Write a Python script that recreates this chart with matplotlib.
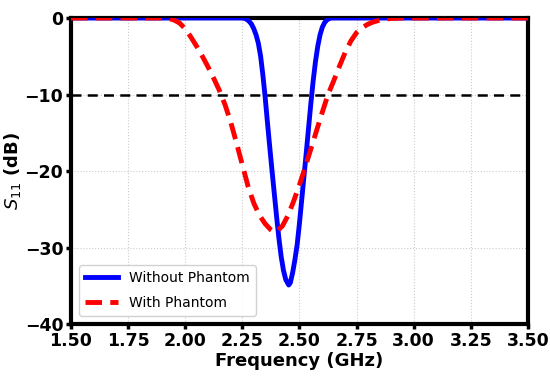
import matplotlib
matplotlib.use("Agg")
import matplotlib.pyplot as plt

# Without Phantom
freq_without = [1.50, 2.00, 2.25, 2.26, 2.27, 2.28, 2.29, 2.30, 2.31, 2.32, 2.33, 2.34,
                2.35, 2.36, 2.37, 2.38, 2.39, 2.40, 2.41, 2.42, 2.43, 2.44, 2.453, 2.46,
                2.47, 2.48, 2.49, 2.50, 2.51, 2.52, 2.53, 2.54, 2.55, 2.56, 2.57, 2.58,
                2.59, 2.60, 2.61, 2.62, 2.63, 2.64, 3.00, 3.50]
s11_without = [0.0, 0.0, 0.0, -0.05, -0.2, -0.45, -0.8, -1.4, -2.2, -3.3, -5.0, -7.5,
               -10.4, -13.7, -16.9, -20.0, -23.0, -26.0, -28.8, -31.2, -33.0, -34.2, -34.9, -34.6,
               -33.3, -31.6, -29.6, -26.8, -23.7, -20.6, -17.5, -14.3, -11.1, -8.2, -5.7, -3.7,
               -2.2, -1.2, -0.6, -0.25, -0.08, 0.0, 0.0, 0.0]

# With Phantom
freq_with = [1.50, 1.90, 1.925, 1.95, 1.975, 2.00, 2.025, 2.05, 2.075, 2.10, 2.125, 2.15,
             2.175, 2.20, 2.225, 2.25, 2.275, 2.30, 2.325, 2.35, 2.375, 2.39, 2.40, 2.425,
             2.45, 2.475, 2.50, 2.525, 2.55, 2.575, 2.60, 2.625, 2.65, 2.675, 2.70, 2.725,
             2.75, 2.775, 2.80, 2.825, 2.85, 2.875, 2.90, 2.95, 3.20, 3.50]
s11_with = [0.0, 0.0, -0.05, -0.25, -0.65, -1.4, -2.5, -3.7, -5.0, -6.4, -7.9, -9.5,
            -11.4, -13.7, -16.4, -19.2, -22.0, -24.2, -25.8, -26.9, -27.7, -28.0, -27.9, -27.2,
            -25.8, -23.9, -21.8, -19.5, -17.1, -14.7, -12.3, -10.0, -8.2, -6.3, -4.5, -3.0,
            -1.9, -1.25, -0.8, -0.5, -0.3, -0.15, -0.06, 0.0, 0.0, 0.0]

threshold = -10
xticks = [1.50, 1.75, 2.00, 2.25, 2.50, 2.75, 3.00, 3.25, 3.50]
yticks = [0, -10, -20, -30, -40]

fig = plt.figure(figsize=(5.5, 3.83), dpi=100)
ax = fig.add_axes([0.129, 0.154, 0.831, 0.799])

ax.plot(freq_without, s11_without, color="#0000ff", lw=3.5, label="Without Phantom",
        zorder=3, solid_joinstyle="round")
ax.plot(freq_with, s11_with, color="#ff0000", lw=3.5, ls=(0, (3.4, 1.7)), label="With Phantom",
        zorder=3, dash_joinstyle="round")
ax.axhline(threshold, color="black", lw=1.8, ls=(0, (4, 2.5)), zorder=2)

ax.set_xlim(1.5, 3.5)
ax.set_ylim(-40, 0)
ax.set_xticks(xticks)
ax.set_xticklabels([f"{t:.2f}" for t in xticks])
ax.set_yticks(yticks)
ax.set_yticklabels([f"{t}".replace("-", "\u2212") for t in yticks])
ax.grid(True, ls=":", color="#cccccc", lw=0.8)

for lab in ax.get_xticklabels() + ax.get_yticklabels():
    lab.set_fontweight("bold")
    lab.set_fontsize(12.5)

for sp in ax.spines.values():
    sp.set_linewidth(3)
    sp.set_color("black")
ax.tick_params(width=2.5, length=3.5, pad=2)

ax.set_xlabel("Frequency (GHz)", fontsize=13, fontweight="bold", labelpad=2)
ax.set_ylabel("$S_{11}$ (dB)", fontsize=13, fontweight="bold", labelpad=1)
ax.yaxis.set_label_coords(-0.105, 0.5)

ax.legend(loc="lower left", fontsize=10, handlelength=2.4, borderaxespad=0.6,
          labelspacing=0.8, framealpha=0.9)

fig.savefig("out.png", dpi=100)
